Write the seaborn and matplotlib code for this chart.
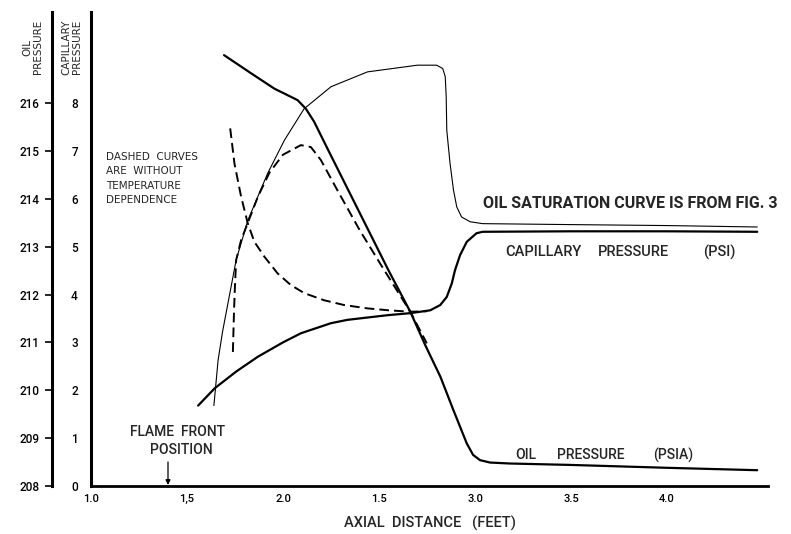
import numpy as np
import pandas as pd
import matplotlib
matplotlib.use("Agg")
import matplotlib.pyplot as plt
import seaborn as sns

# ---------------- data ----------------
x_ticks = [1.0, 1.5, 2.0, 2.5, 3.0, 3.5, 4.0]
x_tick_labels = ["1.0", "1,5", "2.0", "1.5", "3.0", "3.5", "4.0"]
cap_ticks = [0, 1, 2, 3, 4, 5, 6, 7, 8]
oil_ticks = [208, 209, 210, 211, 212, 213, 214, 215, 216]

# oil pressure (psia), solid thick
oil_x = [1.693, 1.834, 1.955, 2.076, 2.119, 2.162, 2.24, 2.35, 2.445, 2.55, 2.663,
         2.74, 2.82, 2.887, 2.957, 2.99, 3.026, 3.078, 3.18, 3.5, 4.0, 4.47]
oil_psia = [217.00, 216.62, 216.30, 216.06, 215.88, 215.61, 214.98, 214.10, 213.34,
            212.50, 211.64, 210.95, 210.28, 209.59, 208.89, 208.65, 208.54, 208.49,
            208.47, 208.44, 208.38, 208.33]

# capillary pressure (psi), solid thick
cap_x = [1.558, 1.644, 1.756, 1.869, 2.0, 2.093, 2.249, 2.335, 2.42, 2.55, 2.663,
         2.767, 2.819, 2.853, 2.879, 2.896, 2.922, 2.957, 3.008, 3.04, 3.5, 4.0, 4.47]
cap_psi = [1.68, 2.04, 2.39, 2.70, 3.00, 3.19, 3.40, 3.47, 3.51, 3.57, 3.61,
           3.67, 3.78, 3.95, 4.23, 4.51, 4.82, 5.10, 5.28, 5.31, 5.32, 5.32, 5.31]

# oil saturation curve (thin, drawn in capillary-scale units)
sat_x = [1.64, 1.662, 1.685, 1.713, 1.756, 1.817, 1.92, 2.007, 2.11, 2.25, 2.44,
         2.70, 2.80, 2.832, 2.845, 2.85, 2.853, 2.870, 2.888, 2.905, 2.93, 2.974,
         3.04, 3.5, 4.0, 4.47]
sat_y = [1.68, 2.63, 3.22, 3.81, 4.72, 5.55, 6.53, 7.22, 7.88, 8.34, 8.65,
         8.79, 8.79, 8.72, 8.55, 8.13, 7.43, 6.74, 6.18, 5.83, 5.62, 5.52,
         5.48, 5.46, 5.44, 5.41]

# dashed: capillary pressure without temperature dependence
dcap_x = [1.725, 1.747, 1.782, 1.817, 1.851, 1.903, 1.972, 2.04, 2.11, 2.214,
          2.318, 2.44, 2.55, 2.663, 2.749]
dcap_psi = [7.47, 6.74, 6.04, 5.48, 5.10, 4.79, 4.44, 4.20, 4.03, 3.88,
            3.78, 3.71, 3.67, 3.64, 3.65]

# dashed: oil pressure without temperature dependence (capillary-scale units)
doil_x = [1.739, 1.745, 1.750, 1.756, 1.782, 1.817, 1.87, 1.93, 2.0, 2.093, 2.145,
          2.197, 2.283, 2.40, 2.51, 2.663, 2.749]
doil_y = [2.80, 3.67, 4.20, 4.72, 5.14, 5.50, 6.05, 6.55, 6.92, 7.12, 7.08,
          6.81, 6.18, 5.34, 4.62, 3.64, 2.98]

OIL_BASE = 208

# ---------------- figure ----------------
sns.set_style("white")
plt.rcParams["font.family"] = ["DejaVu Sans"]
RB = ["Roboto", "DejaVu Sans"]

W, H = 791, 534
fig = plt.figure(figsize=(W / 100, H / 100), dpi=100)
L, R, B, T = 91, 768, 486, 12
PX_PER_FT = 192.0
PX_PER_UNIT = 47.875
ax = fig.add_axes([L / W, 1 - B / H, (R - L) / W, (B - T) / H])
ax.set_xlim(1.0, 1.0 + (R - L) / PX_PER_FT)
ax.set_ylim(0, (B - T) / PX_PER_UNIT)

k = dict(ax=ax, color="black", sort=False, estimator=None, legend=False)
sns.lineplot(x=sat_x, y=sat_y, linewidth=0.8, **k)
sns.lineplot(x=oil_x, y=[v - OIL_BASE for v in oil_psia], linewidth=1.6, **k)
sns.lineplot(x=cap_x, y=cap_psi, linewidth=1.6, **k)
sns.lineplot(x=dcap_x, y=dcap_psi, linewidth=1.4, **k)
ax.lines[-1].set_dashes((5, 2.6))
sns.lineplot(x=doil_x, y=doil_y, linewidth=1.4, **k)
ax.lines[-1].set_dashes((5, 2.6))

for s in ["top", "right"]:
    ax.spines[s].set_visible(False)
ax.spines["left"].set_linewidth(2.2)
ax.spines["bottom"].set_linewidth(2.0)
ax.spines["left"].set_color("black")
ax.spines["bottom"].set_color("black")

ax.set_xticks(x_ticks)
ax.set_xticklabels(x_tick_labels, family=RB, fontweight="medium")
ax.tick_params(axis="x", direction="in", length=9.5, width=1.2, pad=6,
               labelsize=8, colors="black")
ax.set_yticks(cap_ticks)
ax.set_yticklabels([str(t) for t in cap_ticks], family=RB, fontweight="medium")
ax.tick_params(axis="y", direction="out", length=4.5, width=1.2, pad=5,
               labelsize=8.5, colors="black")

sec = ax.secondary_yaxis(-39 / (R - L), functions=(lambda y: y + OIL_BASE,
                                                    lambda y: y - OIL_BASE))
sec.set_yticks(oil_ticks)
sec.set_yticklabels([str(t) for t in oil_ticks], family=RB, fontweight="medium")
sec.spines["left"].set_linewidth(2.2)
sec.spines["left"].set_color("black")
sec.tick_params(axis="y", direction="out", length=5, width=1.2, pad=4,
                labelsize=8.5, colors="black")

# axis titles
fig.text(33 / W, 1 - 47 / H, "OIL\nPRESSURE", rotation=90, ha="center",
         va="center", multialignment="center", fontsize=7.5, linespacing=1.1)
fig.text(72 / W, 1 - 47 / H, "CAPILLARY\nPRESSURE", rotation=90, ha="center",
         va="center", multialignment="center", fontsize=7.5, linespacing=1.1)


def px2d(px, py):
    return 1.0 + (px - L) / PX_PER_FT, (B - py) / PX_PER_UNIT


def words(items, py, size, **kw):
    for left, txt in items:
        ax.text(*px2d(left, py), txt, ha="left", va="center", fontsize=size,
                family=RB, fontweight="medium", clip_on=False, **kw)


# x axis title
fig.text(430 / W, 1 - 523 / H, "AXIAL  DISTANCE   (FEET)", ha="center",
         va="center", fontsize=10.5, family=RB, fontweight="medium")

# annotations
for line, py in zip(["DASHED  CURVES", "ARE  WITHOUT", "TEMPERATURE", "DEPENDENCE"],
                    [157, 171.5, 186, 200]):
    ax.text(*px2d(106, py), line, ha="left", va="center", fontsize=7.5,
            family=["DejaVu Sans"])

ax.text(*px2d(483, 203), "OIL SATURATION CURVE IS FROM FIG. 3", ha="left",
        va="center", fontsize=11.5, fontweight="bold", family=RB)
words([(505, "CAPILLARY"), (598, "PRESSURE"), (703, "(PSI)")], 252, 10.5)
words([(515, "OIL"), (557, "PRESSURE"), (653, "(PSIA)")], 455, 10)
ax.text(*px2d(177, 432), "FLAME  FRONT", ha="center", va="center",
        fontsize=10, family=RB, fontweight="medium")
ax.text(*px2d(181, 450), "POSITION", ha="center", va="center",
        fontsize=10, family=RB, fontweight="medium")
ax.annotate("", xy=px2d(168, 485), xytext=px2d(168, 462),
            arrowprops=dict(arrowstyle="-|>", lw=0.9, color="black",
                            mutation_scale=7, shrinkA=0, shrinkB=0))

fig.savefig("out.png", dpi=100, facecolor="white")
